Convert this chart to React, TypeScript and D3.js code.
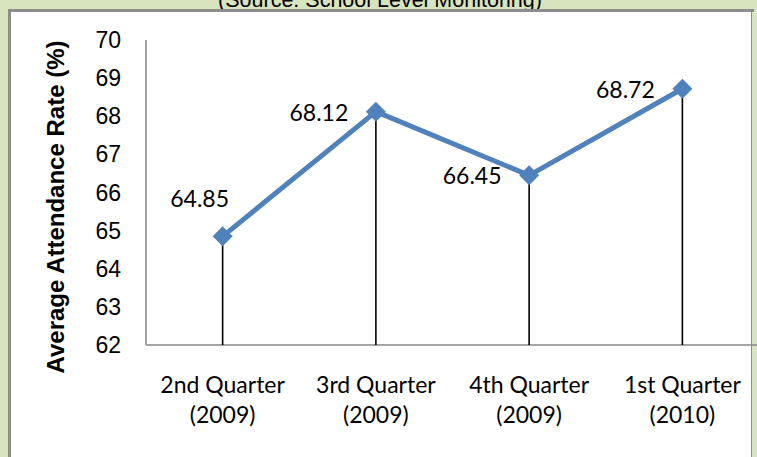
import React from "react";
import * as d3 from "d3";

// chart data
const quarters = ["2nd Quarter", "3rd Quarter", "4th Quarter", "1st Quarter"];
const years = ["(2009)", "(2009)", "(2009)", "(2010)"];
const attendance = [64.85, 68.12, 66.45, 68.72];
const yTicks = [62, 63, 64, 65, 66, 67, 68, 69, 70];

const W = 757, H = 457;
const blue = "#4f81bd";
const arial = "Liberation Sans, Arial, sans-serif";
const calibri = "Lato, Calibri, sans-serif";

export default function App() {
  const left = 146, right = 759, top = 40, bottom = 345;
  const x = d3.scaleBand<number>().domain(d3.range(quarters.length)).range([left, right]);
  const y = d3.scaleLinear().domain([62, 70]).range([bottom, top]);
  const cx = (i: number) => (x(i) as number) + x.bandwidth() / 2;

  const line = d3.line<number>().x((_, i) => cx(i)).y(d => y(d));
  const marker = d3.symbol(d3.symbolSquare, 200)();

  return (
    <svg width={W} height={H} style={{ position: "absolute", left: 0, top: 0 }}>
      <rect width={W} height={H} fill="#d7e4bd" />
      <text x={380} y={6.5} textAnchor="middle" fontFamily={arial} fontSize={21.5} fill="#000">
        (Source: School Level Monitoring)
      </text>
      {/* white chart panel with gray frame */}
      <rect x={9.5} y={10.5} width={743} height={460} fill="#fff" stroke="#8c8c8c" strokeWidth={3} />
      <rect x={752} y={12} width={10} height={450} fill="#d7e4bd" />

      {/* y axis title */}
      <text transform="translate(64,207) rotate(-90)" textAnchor="middle"
        fontFamily={arial} fontWeight="bold" fontSize={24}>
        Average Attendance Rate (%)
      </text>

      {/* y tick labels */}
      {yTicks.map(t => (
        <text key={t} x={121} y={y(t)} dy="0.35em" textAnchor="end" fontFamily={arial} fontSize={23}>
          {t}
        </text>
      ))}

      {/* axes */}
      <line x1={left} x2={left} y1={top} y2={bottom} stroke="#868686" strokeWidth={1.5} />
      <line x1={left} x2={right} y1={bottom} y2={bottom} stroke="#868686" strokeWidth={1.5} />

      {/* drop lines */}
      {attendance.map((v, i) => (
        <line key={i} x1={cx(i)} x2={cx(i)} y1={y(v)} y2={bottom} stroke="#000" strokeWidth={1.6} />
      ))}

      <path d={line(attendance) || ""} fill="none" stroke={blue} strokeWidth={5} strokeLinejoin="round" />
      {attendance.map((v, i) => (
        <path key={i} d={marker || ""} transform={`translate(${cx(i)},${y(v)}) rotate(45)`} fill={blue} />
      ))}

      {/* data labels */}
      {attendance.map((v, i) => {
        const above = i === 0;
        return (
          <text key={i} x={above ? cx(i) - 23 : cx(i) - 57} y={above ? y(v) - 37.5 : y(v) + 1} dy="0.35em"
            textAnchor="middle" fontFamily={calibri} fontSize={23}>
            {v.toFixed(2)}
          </text>
        );
      })}

      {/* category labels */}
      {quarters.map((q, i) => (
        <g key={q} fontFamily={calibri} fontSize={23} textAnchor="middle">
          <text x={cx(i)} y={393}>{q}</text>
          <text x={cx(i)} y={423}>{years[i]}</text>
        </g>
      ))}
    </svg>
  );
}
